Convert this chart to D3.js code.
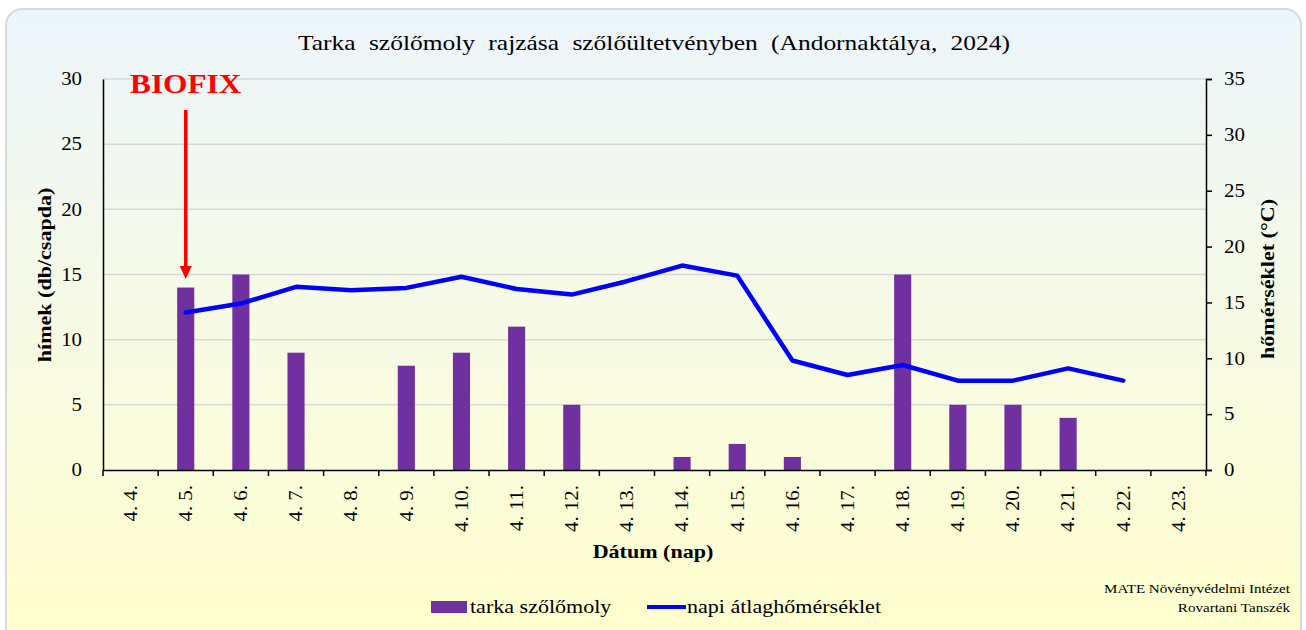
<!DOCTYPE html>
<html><head><meta charset="utf-8">
<script src="https://cdn.jsdelivr.net/npm/d3@7"></script>
<style>html,body{margin:0;padding:0;background:#fff;}svg{display:block;}</style>
</head><body>
<script>
const categories = ["4. 4.","4. 5.","4. 6.","4. 7.","4. 8.","4. 9.","4. 10.","4. 11.","4. 12.","4. 13.","4. 14.","4. 15.","4. 16.","4. 17.","4. 18.","4. 19.","4. 20.","4. 21.","4. 22.","4. 23."];
const moths = [0,14,15,9,0,8,9,11,5,0,1,2,1,0,15,5,5,4,0,0];
const tempCats = ["4. 5.","4. 6.","4. 7.","4. 8.","4. 9.","4. 10.","4. 11.","4. 12.","4. 13.","4. 14.","4. 15.","4. 16.","4. 17.","4. 18.","4. 19.","4. 20.","4. 21.","4. 22."];
const temps = [14.1,14.9,16.4,16.1,16.3,17.3,16.2,15.7,16.9,18.3,17.4,9.8,8.5,9.4,8.0,8.0,9.1,8.0];
const leftTicks = [0,5,10,15,20,25,30];
const rightTicks = [0,5,10,15,20,25,30,35];
const titleText = "Tarka szőlőmoly rajzása szőlőültetvényben (Andornaktálya, 2024)";
const biofixDate = "4. 5.";

const W = 1306, H = 630;
const m = {left:103, right:1206, top:79, bottom:470};
const FONT = "'Liberation Serif','Times New Roman',serif";
const STRETCH = 1.16;

const svg = d3.select("body").append("svg").attr("width",W).attr("height",H);
const defs = svg.append("defs");
const grad = defs.append("linearGradient").attr("id","bg").attr("x1",0).attr("y1",0).attr("x2",0).attr("y2",1);
grad.append("stop").attr("offset","0%").attr("stop-color","#ecf5fb");
grad.append("stop").attr("offset","55%").attr("stop-color","#f8fbe2");
grad.append("stop").attr("offset","100%").attr("stop-color","#ffffcc");

svg.append("rect").attr("x",6).attr("y",9).attr("width",1295).attr("height",640)
  .attr("rx",16).attr("fill","url(#bg)").attr("stroke","#d9d9d9").attr("stroke-width",2);

const x = d3.scaleBand().domain(categories).range([m.left,m.right]).paddingInner(0.69).paddingOuter(0.345);
const xb = d3.scaleBand().domain(categories).range([m.left,m.right]);
const yL = d3.scaleLinear().domain([0,30]).range([m.bottom,m.top]);
const yR = d3.scaleLinear().domain([0,35]).range([m.bottom,m.top]);

// gridlines
svg.append("g").selectAll("line").data(leftTicks.filter(d=>d>0)).join("line")
  .attr("x1",m.left).attr("x2",m.right).attr("y1",d=>yL(d)).attr("y2",d=>yL(d))
  .attr("stroke","#d9d9d9").attr("stroke-width",1.5);

// bars
svg.append("g").selectAll("rect").data(categories.map((c,i)=>({c,v:moths[i]})).filter(d=>d.v>0)).join("rect")
  .attr("x",d=>x(d.c)).attr("width",x.bandwidth())
  .attr("y",d=>yL(d.v)).attr("height",d=>yL(0)-yL(d.v))
  .attr("fill","#7030a0");

// line
const line = d3.line().x((d,i)=>xb(tempCats[i])+xb.bandwidth()/2).y(d=>yR(d));
svg.append("path").datum(temps).attr("d",line).attr("fill","none")
  .attr("stroke","#0000ff").attr("stroke-width",4.5).attr("stroke-linejoin","round").attr("stroke-linecap","round");

// axes
const axL = svg.append("g").attr("transform",`translate(${m.left},0)`)
  .call(d3.axisLeft(yL).tickValues(leftTicks).tickSize(0).tickPadding(21));
axL.select(".domain").attr("stroke","#000").attr("stroke-width",1.5);
axL.selectAll("text").attr("font-family",FONT).attr("font-size",18).attr("fill","#000").classed("st",true);

const axR = svg.append("g").attr("transform",`translate(${m.right},0)`)
  .call(d3.axisRight(yR).tickValues(rightTicks).tickSize(6).tickPadding(12));
axR.select(".domain").attr("stroke","#000").attr("stroke-width",1.5);
axR.selectAll("line").attr("stroke","#000").attr("stroke-width",1.5);
axR.selectAll("text").attr("font-family",FONT).attr("font-size",18).attr("fill","#000").classed("st",true);

const axB = svg.append("g").attr("transform",`translate(0,${m.bottom})`)
  .call(d3.axisBottom(xb).tickSize(0).tickPadding(0));
axB.select(".domain").attr("stroke","#000").attr("stroke-width",1.5);
axB.selectAll("text").attr("font-family",FONT).attr("font-size",18).attr("fill","#000").classed("st",true)
  .attr("text-anchor","end").attr("transform","translate(0,15) rotate(-90)").attr("dy","0.35em").attr("dx","0").attr("y",0).attr("x",0);
// tick marks at band boundaries
svg.append("g").selectAll("line").data(categories.concat(["__end"])).join("line")
  .attr("x1",(d,i)=>m.left+i*xb.step()).attr("x2",(d,i)=>m.left+i*xb.step())
  .attr("y1",m.bottom).attr("y2",m.bottom+6).attr("stroke","#000").attr("stroke-width",1.5);

// titles
svg.append("text").attr("x",654).attr("y",50).attr("text-anchor","middle")
  .attr("font-family",FONT).attr("font-size",22).attr("word-spacing","6px")
  .attr("textLength",712).attr("lengthAdjust","spacingAndGlyphs").text(titleText);
svg.append("text").attr("transform",`translate(51,275) rotate(-90)`).attr("text-anchor","middle").classed("st",true)
  .attr("font-family",FONT).attr("font-size",19).attr("font-weight","bold").text("hímek (db/csapda)");
svg.append("text").attr("transform",`translate(1274,279) rotate(-90)`).attr("text-anchor","middle").classed("st",true)
  .attr("font-family",FONT).attr("font-size",19).attr("font-weight","bold").text("hőmérséklet (°C)");
svg.append("text").attr("x",653).attr("y",558).attr("text-anchor","middle").classed("st",true)
  .attr("font-family",FONT).attr("font-size",19).attr("font-weight","bold").text("Dátum (nap)");

// BIOFIX
const bx = xb(biofixDate)+xb.bandwidth()/2;
svg.append("text").attr("x",bx).attr("y",93).attr("text-anchor","middle").classed("st",true)
  .attr("font-family",FONT).attr("font-size",27).attr("font-weight","bold").attr("fill","#ff0000").text("BIOFIX");
svg.append("line").attr("x1",bx).attr("x2",bx).attr("y1",110).attr("y2",268)
  .attr("stroke","#ff0000").attr("stroke-width",3.5);
svg.append("path").attr("d",`M${bx-6},${266} L${bx+6},${266} L${bx},${279} Z`).attr("fill","#ff0000");

// legend
svg.append("rect").attr("x",431).attr("y",601).attr("width",36).attr("height",12).attr("fill","#7030a0");
svg.append("text").attr("x",470).attr("y",613).attr("font-family",FONT).attr("font-size",19).classed("st",true).text("tarka szőlőmoly");
svg.append("line").attr("x1",647).attr("x2",686).attr("y1",607).attr("y2",607).attr("stroke","#0000ff").attr("stroke-width",4);
svg.append("text").attr("x",687).attr("y",613).attr("font-family",FONT).attr("font-size",19).classed("st",true).text("napi átlaghőmérséklet");

// credit
svg.append("text").attr("x",1290).attr("y",593).attr("text-anchor","end").attr("font-family",FONT).attr("font-size",13).classed("st",true).text("MATE Növényvédelmi Intézet");
svg.append("text").attr("x",1290).attr("y",612).attr("text-anchor","end").attr("font-family",FONT).attr("font-size",13).classed("st",true).text("Rovartani Tanszék");

// horizontal stretch to match the wide serif rendering of the original
svg.selectAll("text.st").each(function(){
  const len = this.getComputedTextLength();
  d3.select(this).attr("textLength",len*STRETCH).attr("lengthAdjust","spacingAndGlyphs");
});
</script>
</body></html>
